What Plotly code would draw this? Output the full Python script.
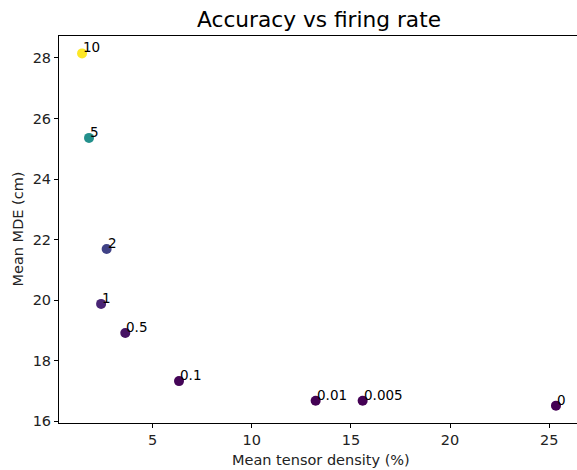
import plotly.graph_objects as go

labels = ["10", "5", "2", "1", "0.5", "0.1", "0.01", "0.005", "0"]
rate_values = [10, 5, 2, 1, 0.5, 0.1, 0.01, 0.005, 0]
density = [1.44, 1.79, 2.68, 2.40, 3.62, 6.33, 13.22, 15.59, 25.34]
mde = [28.15, 25.36, 21.69, 19.88, 18.92, 17.33, 16.68, 16.68, 16.52]

font = "DejaVu Sans"
W, H = 577, 470
L, R, T, B = 59, 0, 36, 47

fig = go.Figure()
fig.add_trace(go.Scatter(
    x=density, y=mde, mode="markers",
    marker=dict(size=10, color=rate_values, colorscale="Viridis",
                cmin=min(rate_values), cmax=max(rate_values), line=dict(width=0)),
    showlegend=False, hoverinfo="skip", cliponaxis=False,
))

for xv, yv, t in zip(density, mde, labels):
    fig.add_annotation(x=xv, y=yv, text=t, showarrow=False,
                       xanchor="left", yanchor="bottom", xshift=-1, yshift=-4,
                       font=dict(family=font, size=13.5, color="black"))

# axis titles
fig.add_annotation(xref="paper", yref="paper", x=(321 - L) / (W - L - R), y=-(460 - (H - B)) / (H - T - B),
                   text="Mean tensor density (%)", showarrow=False, xanchor="center", yanchor="middle",
                   font=dict(family=font, size=14.5, color="#222"))
fig.add_annotation(xref="paper", yref="paper", x=-(L - 17) / (W - L - R), y=0.5,
                   text="Mean MDE (cm)", textangle=-90, showarrow=False,
                   xanchor="center", yanchor="middle",
                   font=dict(family=font, size=14.5, color="#222"))

axis_common = dict(showline=True, linecolor="black", linewidth=1, ticks="outside",
                   ticklen=4, tickcolor="black", showgrid=False, zeroline=False,
                   automargin=False,
                   tickfont=dict(family=font, size=14.5, color="#222"))

fig.update_layout(
    width=W, height=H,
    margin=dict(l=L, r=R, t=T, b=B),
    paper_bgcolor="white", plot_bgcolor="white",
    title=dict(text="Accuracy vs firing rate", x=319 / W, xanchor="center",
               y=1 - 19 / H, yanchor="middle",
               font=dict(family=font, size=21.7, color="black")),
    xaxis=dict(range=[0.277, 26.40], tickvals=[5, 10, 15, 20, 25], mirror=True,
               **axis_common),
    yaxis=dict(range=[15.947, 28.725], tickvals=[16, 18, 20, 22, 24, 26, 28],
               **axis_common),
)

fig.write_html("out.html", config={"displayModeBar": False},
               post_script="document.body.style.margin='0';document.body.style.overflow='hidden';")
